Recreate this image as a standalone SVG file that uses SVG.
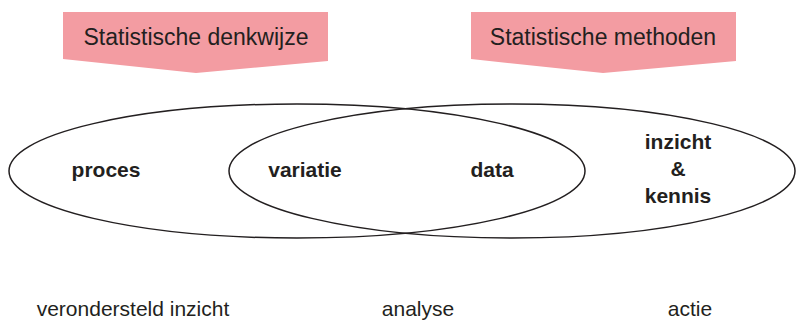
<svg xmlns="http://www.w3.org/2000/svg" width="796" height="320" viewBox="0 0 796 320">
<style>
.banner{fill:#f39ca2;stroke:none}
.btxt{font-family:"Liberation Sans",Arial,sans-serif;font-size:23px;fill:#231f20;text-anchor:middle}
.ell{fill:none;stroke:#231f20;stroke-width:1.5}
.lbl{font-family:"Liberation Sans",Arial,sans-serif;font-size:21px;font-weight:bold;fill:#231f20;text-anchor:middle}
.bot{font-family:"Liberation Sans",Arial,sans-serif;font-size:21px;fill:#231f20;text-anchor:middle}
</style>
<rect width="796" height="320" fill="#ffffff"/>
<g id="banner-denkwijze">
<polygon class="banner" points="63,12 328,12 328,61 196,73 63,59"/>
<text class="btxt" x="196" y="45">Statistische denkwijze</text>
</g>
<g id="banner-methoden">
<polygon class="banner" points="471,12 736,12 736,61 603,73 471,59"/>
<text class="btxt" x="603" y="45">Statistische methoden</text>
</g>
<g id="ellipse-left">
<ellipse class="ell" cx="297" cy="171" rx="288" ry="67"/>
</g>
<g id="ellipse-right">
<ellipse class="ell" cx="512" cy="171" rx="283" ry="67"/>
</g>
<g id="labels">
<text class="lbl" x="106" y="177">proces</text>
<text class="lbl" x="305" y="177">variatie</text>
<text class="lbl" x="492" y="177">data</text>
<text class="lbl" x="678" y="149">inzicht</text>
<text class="lbl" x="678" y="176">&amp;</text>
<text class="lbl" x="678" y="203">kennis</text>
</g>
<g id="bottom">
<text class="bot" x="133" y="316">verondersteld inzicht</text>
<text class="bot" x="418" y="316">analyse</text>
<text class="bot" x="690" y="316">actie</text>
</g>
</svg>
